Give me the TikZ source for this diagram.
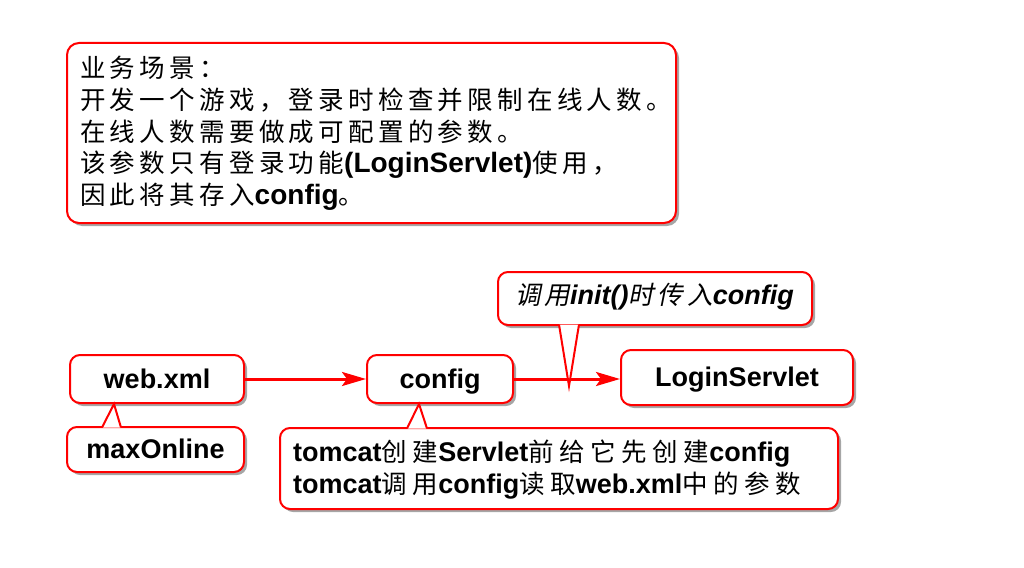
\documentclass[tikz,border=0pt]{standalone}
\usepackage{fontspec}
\setmainfont{Liberation Sans}
\newfontfamily\cjkA[LetterSpace=16.9]{Noto Sans CJK SC}
\newfontfamily\cjkB[LetterSpace=22]{Noto Sans CJK SC}
\newfontfamily\cjkI[LetterSpace=15.3,FakeSlant=0.2]{Noto Sans CJK SC}
\usetikzlibrary{shadows,arrows.meta,calc}
\newcommand\za[1]{{\fontsize{25.5}{30}\cjkA #1}}
\newcommand\ea[1]{{\fontsize{28}{30}\selectfont\bfseries #1}}
\newcommand\zb[1]{{\fontsize{25.5}{30}\cjkB #1}}
\newcommand\eb[1]{{\fontsize{27}{30}\selectfont\bfseries #1}}
\newcommand\zi[1]{{\fontsize{25.5}{30}\cjkI #1}}
\newcommand\ei[1]{{\fontsize{27}{30}\selectfont\bfseries\itshape #1}}
\begin{document}
\begin{tikzpicture}[x=1pt,y=-1pt,
  box/.style={draw=red, line width=2pt, rounded corners=10pt, fill=white,
    drop shadow={shadow xshift=3pt, shadow yshift=-3pt, fill=black, opacity=0.35},
    inner sep=0pt},
  lab/.style={font=\fontsize{27}{30}\selectfont\bfseries, text height=18pt, text depth=0pt},
  txt/.style={inner sep=0pt, anchor=base west},
  arr/.style={draw=red, line width=3pt, -{Stealth[length=24pt,width=14pt,inset=5pt]}},
  ptrfill/.style={fill=white},
  ptrline/.style={draw=red, line width=2pt, line join=miter}
]
\useasboundingbox (0,0) rectangle (1024,567);
\fill[white] (0,0) rectangle (1024,567);

% top description box
\node[box, rounded corners=12pt, minimum width=609pt, minimum height=180pt] (topbox) at (371.5,133) {};
\node[txt] (t1) at (80,78) {\za{业务场景：}};
\node[txt] (t2) at (80,109.5) {\za{开发一个游戏，登录时检查并限制在线人数。}};
\node[txt] (t3) at (80,141) {\za{在线人数需要做成可配置的参数。}};
\node[txt] (t4) at (80,172.5) {\za{该参数只有登录功能}\ea{(LoginServlet)}\za{使用，}};
\node[txt] (t5) at (80,204) {\za{因此将其存入}\ea{config}\za{。}};

% diagram nodes
\node[box, lab, minimum width=174pt, minimum height=48pt] (web) at (157,379) {web.xml};
\node[box, lab, minimum width=146pt, minimum height=48pt] (config) at (440,379) {config};
\node[box, lab, minimum width=232pt, minimum height=55pt] (login) at (737,377.5) {LoginServlet};
\node[box, lab, minimum width=177pt, minimum height=45pt] (maxon) at (155.5,449.5) {maxOnline};

% arrows
\draw[arr] (web.east) -- (config.west);
\draw[arr] (config.east) -- (config.east -| login.west);

% callout: init()
\node[box, minimum width=314pt, minimum height=53pt] (call1) at (655,298.5) {};
\node[txt] (c1text) at (515,304) {\zi{调用}\ei{init()}\zi{时传入}\ei{config}};
\coordinate (c1a) at ($(call1.south west)+(62,-1.5)$);
\coordinate (c1b) at ($(call1.south west)+(82,-1.5)$);
\coordinate (c1tip) at ($(call1.south west)+(72,60)$);
\fill[ptrfill] (c1a) -- (c1tip) -- (c1b) -- cycle;
\draw[ptrline] (c1a) -- (c1tip) -- (c1b);

% callout: tomcat
\node[box, minimum width=558pt, minimum height=81pt] (call2) at (559,468.5) {};
\node[txt] (c2l1) at (293,461) {\eb{tomcat}\zb{创建}\eb{Servlet}\zb{前给它先创建}\eb{config}};
\node[txt] (c2l2) at (293,493) {\eb{tomcat}\zb{调用}\eb{config}\zb{读取}\eb{web.xml}\zb{中的参数}};
\coordinate (c2a) at ($(call2.north west)+(128,1.5)$);
\coordinate (c2b) at ($(call2.north west)+(148,1.5)$);
\coordinate (c2tip) at ($(config.south west)+(53,0)$);
\fill[ptrfill] (c2a) -- (c2tip) -- (c2b) -- cycle;
\draw[ptrline] (c2a) -- (c2tip) -- (c2b);

% pointer maxOnline -> web.xml
\coordinate (m1a) at ($(maxon.north west)+(36,1.5)$);
\coordinate (m1b) at ($(maxon.north west)+(55,1.5)$);
\coordinate (m1tip) at ($(web.south west)+(45,0)$);
\fill[ptrfill] (m1a) -- (m1tip) -- (m1b) -- cycle;
\draw[ptrline] (m1a) -- (m1tip) -- (m1b);
\end{tikzpicture}
\end{document}
